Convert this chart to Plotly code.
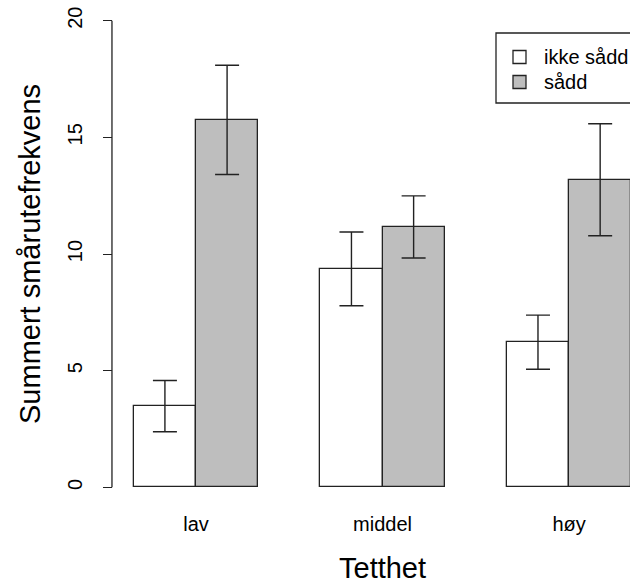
import plotly.graph_objects as go

# ---- data ----
categories = ["lav", "middel", "høy"]
series_names = ["ikke sådd", "sådd"]
ikke_sadd = [3.48, 9.36, 6.22]
sadd = [15.75, 11.16, 13.18]
ikke_sadd_err = [1.10, 1.58, 1.16]
sadd_err = [2.34, 1.33, 2.40]
fill_colors = ["white", "#BEBEBE"]
y_ticks = [0, 5, 10, 15, 20]

W, H = 630, 583
ML, MR, MT, MB = 113, 0, 2, 77
PW, PH = W - ML - MR, H - MT - MB

def px_x(p):
    return (p - ML) / PW

def px_y(p):
    return (H - MB - p) / PH

# R barplot(beside=TRUE) layout: width 1, space c(0,1)
group_left = [1 + 3 * g for g in range(len(categories))]
x_ikke = [gl + 0.5 for gl in group_left]
x_sadd = [gl + 1.5 for gl in group_left]
group_centers = [gl + 1.0 for gl in group_left]

FONT = "Liberation Sans, Arial, sans-serif"

fig = go.Figure()
for xs, ys, errs, col, name in [
    (x_ikke, ikke_sadd, ikke_sadd_err, fill_colors[0], series_names[0]),
    (x_sadd, sadd, sadd_err, fill_colors[1], series_names[1]),
]:
    fig.add_trace(go.Bar(
        x=xs, y=ys, width=1.0, name=name,
        marker=dict(color=col, line=dict(color="#222222", width=1.3)),
        error_y=dict(type="data", array=errs, visible=True,
                     color="#222222", thickness=1.4, width=12),
        showlegend=False,
    ))

fig.update_layout(
    width=W, height=H,
    margin=dict(l=ML, r=MR, t=MT, b=MB, pad=0),
    plot_bgcolor="white", paper_bgcolor="white",
    font=dict(family=FONT, color="black"),
    bargap=0,
    xaxis=dict(
        range=[0.665, 8.98], showgrid=False, zeroline=False, showline=False,
        tickmode="array", tickvals=group_centers, ticktext=categories,
        ticks="", tickfont=dict(size=20, family=FONT, color="black"),
        ticklabelstandoff=4,
    ),
    yaxis=dict(
        range=[-0.8, 20.8], showgrid=False, zeroline=False, showline=False,
        tickmode="array", tickvals=y_ticks, ticktext=[str(v) for v in y_ticks],
        ticks="outside", ticklen=9, tickcolor="#222222", tickwidth=1.3,
        tickangle=-90, tickfont=dict(size=20, family=FONT, color="black"),
        ticklabelstandoff=13,
    ),
)

# y axis line only from 0 to 20
fig.add_shape(type="line", xref="paper", yref="y", x0=-0.002, x1=-0.002,
              y0=y_ticks[0], y1=y_ticks[-1], line=dict(color="#222222", width=1.3))

# axis titles
fig.add_annotation(text="Tetthet", xref="x", yref="paper", x=5.0, y=px_y(568),
                   showarrow=False, font=dict(size=29, family=FONT, color="black"),
                   xanchor="center", yanchor="middle")
fig.add_annotation(text="Summert smårutefrekvens", xref="paper", yref="y",
                   x=px_x(30), y=10, textangle=-90, showarrow=False,
                   font=dict(size=29, family=FONT, color="black"),
                   xanchor="center", yanchor="middle")

# legend (box clipped by right edge, as in reference)
fig.add_shape(type="rect", xref="paper", yref="paper",
              x0=px_x(496), x1=px_x(660), y0=px_y(103), y1=px_y(33),
              line=dict(color="#222222", width=1.3), fillcolor="white")
for i, (nm, col) in enumerate(zip(series_names, fill_colors)):
    cy = 57 + 25 * i
    fig.add_shape(type="rect", xref="paper", yref="paper",
                  x0=px_x(513), x1=px_x(526), y0=px_y(cy + 6.5), y1=px_y(cy - 6.5),
                  line=dict(color="#222222", width=1.3), fillcolor=col)
    fig.add_annotation(text=nm, xref="paper", yref="paper", x=px_x(542), y=px_y(cy),
                       showarrow=False, xanchor="left", yanchor="middle",
                       font=dict(size=20, family=FONT, color="black"))

fig.write_html("out.html")
